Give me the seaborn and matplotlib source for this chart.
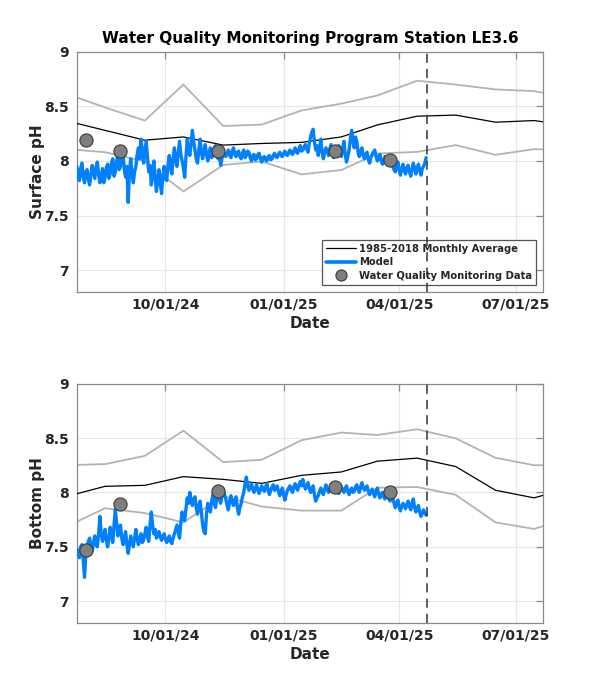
import numpy as np
import pandas as pd
import matplotlib
matplotlib.use("Agg")
import matplotlib.pyplot as plt
import matplotlib.dates as mdates
from matplotlib.lines import Line2D
import seaborn as sns

# ---------------- data ----------------
month_dates = ["2024-07-15", "2024-08-15", "2024-09-15", "2024-10-15", "2024-11-15",
               "2024-12-15", "2025-01-15", "2025-02-15", "2025-03-15", "2025-04-15",
               "2025-05-15", "2025-06-15", "2025-07-15", "2025-08-15"]

surf_mean = [8.37, 8.28, 8.19, 8.22, 8.145, 8.16, 8.17, 8.22, 8.33, 8.41, 8.42, 8.355, 8.37, 8.32]
surf_hi = [8.62, 8.49, 8.37, 8.70, 8.32, 8.333, 8.463, 8.525, 8.60, 8.735, 8.70, 8.655, 8.64, 8.57]
surf_lo = [8.11, 8.08, 7.995, 7.72, 7.963, 7.995, 7.877, 7.917, 8.068, 8.083, 8.145, 8.056, 8.108, 8.10]

bot_mean = [7.96, 8.056, 8.065, 8.145, 8.12, 8.083, 8.157, 8.188, 8.287, 8.315, 8.238, 8.02, 7.95, 8.05]
bot_hi = [8.25, 8.26, 8.336, 8.568, 8.278, 8.30, 8.48, 8.55, 8.528, 8.58, 8.497, 8.318, 8.25, 8.25]
bot_lo = [7.68, 7.855, 7.81, 7.725, 7.966, 7.87, 7.833, 7.833, 8.043, 8.05, 7.978, 7.725, 7.664, 7.78]

obs_dates = ["2024-07-31", "2024-08-27", "2024-11-11", "2025-02-10", "2025-03-25"]
surf_obs = [8.19, 8.09, 8.09, 8.09, 8.01]
bot_obs = [7.475, 7.898, 8.015, 8.046, 8.00]

model_start = "2024-07-24"   # daily model values from this date
surf_model = [
    7.95, 7.86, 7.82, 7.93, 7.98, 7.85, 7.80, 7.90, 7.92, 7.83, 7.78, 7.88, 7.96, 7.90, 7.84, 7.94, 7.99, 7.87, 7.80, 7.86, 7.93,
    7.80, 7.85, 7.94, 7.97, 7.84, 7.88, 7.98, 8.02, 7.86, 7.90, 8.00, 8.06, 7.92, 7.95,
    8.04, 8.08, 7.92, 7.85, 7.95, 7.62, 7.90, 8.02, 7.88, 7.80,
    7.90, 7.95, 8.06, 8.12, 8.02, 8.20, 8.10, 7.98, 8.08, 8.18, 8.04, 7.90,
    7.96, 7.78, 7.88, 8.00, 7.84, 7.72, 7.82, 7.92, 7.80, 7.70, 7.86, 7.95,
    7.84, 7.82, 7.96, 8.05, 7.94, 7.88, 8.02, 8.12, 8.00, 7.95, 8.08, 8.18, 8.06, 8.00, 7.94, 7.85, 8.04, 8.20, 8.10, 8.05, 8.16, 8.28,
    8.18, 8.10, 8.02, 7.98, 8.10, 8.20, 8.08, 8.02, 8.09, 8.15, 8.06, 8.00, 8.07, 8.12, 8.03, 8.05, 8.11, 8.14, 8.06, 8.02,
    8.06, 7.96, 8.02, 8.10, 8.05, 8.04,
    8.07, 8.10, 8.05, 8.03, 8.09, 8.12, 8.06, 8.04, 8.08, 8.09, 8.04, 8.02, 8.07, 8.10, 8.03, 8.05, 8.09,
    8.08, 8.03, 8.00, 8.05, 8.06, 8.01, 8.02, 8.06, 8.07, 8.02, 7.99, 8.03, 8.04, 8.01, 8.00, 8.04, 8.05,
    8.01, 8.02, 8.05, 8.07, 8.04, 8.03, 8.06, 8.08, 8.05, 8.04, 8.07, 8.09, 8.06, 8.05, 8.08, 8.10, 8.07, 8.06, 8.09, 8.12, 8.08, 8.07, 8.11, 8.14, 8.09, 8.10,
    8.13, 8.15, 8.11, 8.08, 8.16, 8.22, 8.26, 8.29, 8.18, 8.10, 8.14, 8.05, 8.12, 8.20, 8.08, 8.02,
    8.08, 8.12, 8.09, 8.05, 8.11, 8.15, 8.07, 8.03, 8.06, 8.10,
    8.06, 8.14, 8.08, 8.04, 8.12, 8.18, 8.06, 7.99, 8.04, 8.10, 8.20, 8.28, 8.18, 8.12,
    8.22, 8.18, 8.08, 8.04, 8.09, 8.12, 8.05, 8.02, 8.06, 8.08, 8.01, 7.98, 8.03, 8.06,
    8.08, 8.10, 8.04, 8.00, 8.03, 8.06, 8.00, 7.97, 8.01, 8.04, 7.99, 7.98, 8.03, 8.02, 7.97, 7.95,
    7.92, 7.90, 7.95, 7.99, 7.92, 7.87, 7.93, 7.97, 7.91, 7.88, 7.94, 7.96, 7.90, 7.86, 7.92, 7.98, 7.93, 7.88, 7.94, 7.97, 7.91, 7.87, 7.93, 7.95, 7.98, 8.03]
bot_model = [
    7.48, 7.44, 7.40, 7.50, 7.52, 7.38, 7.22, 7.42, 7.50,
    7.55, 7.58, 7.50, 7.46, 7.54, 7.60, 7.52, 7.50, 7.62, 7.78,
    7.62, 7.55, 7.60, 7.66, 7.56, 7.50, 7.58, 7.68, 7.60, 7.54,
    7.70, 7.84, 7.72, 7.60, 7.64, 7.70,
    7.58, 7.52, 7.58, 7.64, 7.52, 7.44, 7.52, 7.60,
    7.55, 7.50, 7.58, 7.66, 7.57, 7.52, 7.58, 7.62, 7.54, 7.56,
    7.62, 7.68, 7.60, 7.55, 7.70, 7.82, 7.70, 7.62,
    7.66, 7.58, 7.61, 7.64, 7.59, 7.56, 7.60, 7.62, 7.57, 7.54, 7.57, 7.60, 7.55, 7.53,
    7.58, 7.62, 7.66, 7.70, 7.63, 7.58, 7.72, 7.82, 7.76, 7.74, 7.85, 7.95,
    7.90, 8.00, 7.92, 7.88, 7.94, 7.96, 7.86, 7.80, 7.88, 7.92, 7.82, 7.70,
    7.64, 7.62, 7.80, 7.90, 7.86, 7.82, 7.92, 7.98, 7.90, 7.86, 7.95, 8.02, 7.94, 7.90, 7.97, 8.03,
    7.98, 7.94, 7.88, 7.84, 7.92, 7.97, 7.91, 7.88, 7.93, 7.96, 7.86, 7.80, 7.86, 7.90,
    7.96, 8.00, 8.08, 8.14, 8.06, 8.02, 8.05, 8.08,
    8.03, 8.00, 8.04, 8.07, 8.02, 7.99, 8.03, 8.06, 8.03, 8.01, 8.05, 8.08, 8.02, 7.98, 8.02, 8.05,
    8.07, 8.02, 8.04, 8.06, 8.01, 7.97, 8.00, 8.04, 7.98, 7.93, 7.98, 8.02,
    8.04, 8.06, 8.02, 8.00, 8.05, 8.08, 8.04, 8.02, 8.07, 8.10, 8.06, 8.12, 8.07, 8.03, 8.06, 8.09,
    8.04, 8.00, 8.03, 8.06, 7.98, 7.92, 7.95, 7.97, 8.01, 8.04, 8.00, 7.98,
    8.03, 8.07, 8.03, 8.00, 8.03, 8.05, 8.01, 8.02,
    8.05, 8.07, 8.02, 7.99, 8.03, 8.05, 8.02, 8.00, 8.04, 8.06, 8.01, 7.98, 8.02, 8.04, 8.00, 8.01, 8.05, 8.07, 8.03, 8.00, 8.05, 8.09, 8.05, 8.02,
    8.04, 8.06, 8.01, 7.98, 8.01, 8.03, 7.99, 7.96, 8.01, 8.04, 7.99, 7.95, 7.98, 8.00, 7.96, 7.94,
    7.97, 7.98, 7.94, 7.92, 7.95, 7.96, 7.90, 7.86, 7.90, 7.93, 7.87, 7.83, 7.87, 7.90, 7.88, 7.85,
    7.89, 7.92, 7.87, 7.84, 7.90, 7.94, 7.86, 7.82, 7.85, 7.88, 7.82, 7.78, 7.81, 7.84, 7.81, 7.79]

forecast_date = "2025-04-23"
xlim = ("2024-07-24", "2025-07-22")
yticks = [7, 7.5, 8, 8.5, 9]
ytick_labels = ["7", "7.5", "8", "8.5", "9"]
xticks = ["2024-10-01", "2025-01-01", "2025-04-01", "2025-07-01"]
legend_labels = ["1985-2018 Monthly Average", "Model", "Water Quality Monitoring Data"]

# ---------------- style ----------------
sns.set_style("white")
plt.rcParams['font.family'] = ['DejaVu Sans']

GRAY = "#b3b3b3"
BLUE = "#0080ff"
SPINE = "#8a8a8a"
TXT = "#262626"
DOT = "#7f7f7f"
DOT_EDGE = "#3a3a3a"

fig = plt.figure(figsize=(6, 7), dpi=100)
ax1 = fig.add_axes([0.128, 0.583, 0.777, 0.343])
ax2 = fig.add_axes([0.128, 0.110, 0.777, 0.342])

mdates_m = pd.to_datetime(month_dates)
odates = pd.to_datetime(obs_dates)


def panel(ax, mean, hi, lo, model, obs, ylabel, legend=False):
    mtimes = pd.date_range(model_start, periods=len(model), freq="D")
    sns.lineplot(x=mdates_m, y=hi, ax=ax, color=GRAY, lw=1.3, zorder=2)
    sns.lineplot(x=mdates_m, y=lo, ax=ax, color=GRAY, lw=1.3, zorder=2)
    sns.lineplot(x=mdates_m, y=mean, ax=ax, color="black", lw=0.9, zorder=3)
    sns.lineplot(x=mtimes, y=model, ax=ax, color=BLUE, lw=2.4, zorder=4)
    sns.scatterplot(x=odates, y=obs, ax=ax, color=DOT, edgecolor=DOT_EDGE,
                    linewidth=0.8, s=90, zorder=5)
    ax.axvline(pd.Timestamp(forecast_date), color="#333333", lw=1.1, ls=(0, (6, 4)), zorder=6)
    ax.set_xlim(pd.Timestamp(xlim[0]), pd.Timestamp(xlim[1]))
    ax.set_ylim(6.8, 9)
    ax.set_yticks(yticks)
    ax.set_yticklabels(ytick_labels)
    ax.set_xticks(pd.to_datetime(xticks))
    ax.xaxis.set_major_formatter(mdates.DateFormatter("%m/%d/%y"))
    ax.grid(True, color="#e6e6e6", lw=0.8)
    ax.set_axisbelow(True)
    for s in ax.spines.values():
        s.set_color(SPINE)
        s.set_linewidth(0.9)
    ax.tick_params(direction="in", length=5, width=0.9, color=SPINE, top=True, right=True,
                   labelsize=10, labelcolor=TXT)
    ax.tick_params(axis="x", pad=4)
    ax.tick_params(axis="y", pad=6)
    for lab in ax.get_xticklabels() + ax.get_yticklabels():
        lab.set_fontweight("bold")
    ax.set_xlabel("Date", fontsize=11, fontweight="bold", color=TXT, labelpad=3)
    ax.set_ylabel(ylabel, fontsize=11, fontweight="bold", color=TXT, labelpad=-1)
    lg = ax.get_legend()
    if lg is not None:
        lg.remove()
    if legend:
        handles = [Line2D([], [], color="black", lw=0.9),
                   Line2D([], [], color=BLUE, lw=2.6),
                   Line2D([], [], ls="none", marker="o", markersize=8,
                          markerfacecolor=DOT, markeredgecolor=DOT_EDGE, markeredgewidth=0.8)]
        leg = ax.legend(handles, legend_labels, loc="lower right", frameon=True, fancybox=False,
                        borderpad=0.4, labelspacing=0.35, handlelength=3.0,
                        handletextpad=0.3, borderaxespad=0.7,
                        prop={"weight": "bold", "size": 7.2})
        leg.get_frame().set_edgecolor("#555555")
        leg.get_frame().set_linewidth(0.9)
        leg.get_frame().set_alpha(1)


panel(ax1, surf_mean, surf_hi, surf_lo, surf_model, surf_obs, "Surface pH", legend=True)
panel(ax2, bot_mean, bot_hi, bot_lo, bot_model, bot_obs, "Bottom pH", legend=False)

ax1.set_title("Water Quality Monitoring Program Station LE3.6", fontsize=11,
              fontweight="bold", color="black", pad=6)

fig.savefig("out.png", dpi=100)
